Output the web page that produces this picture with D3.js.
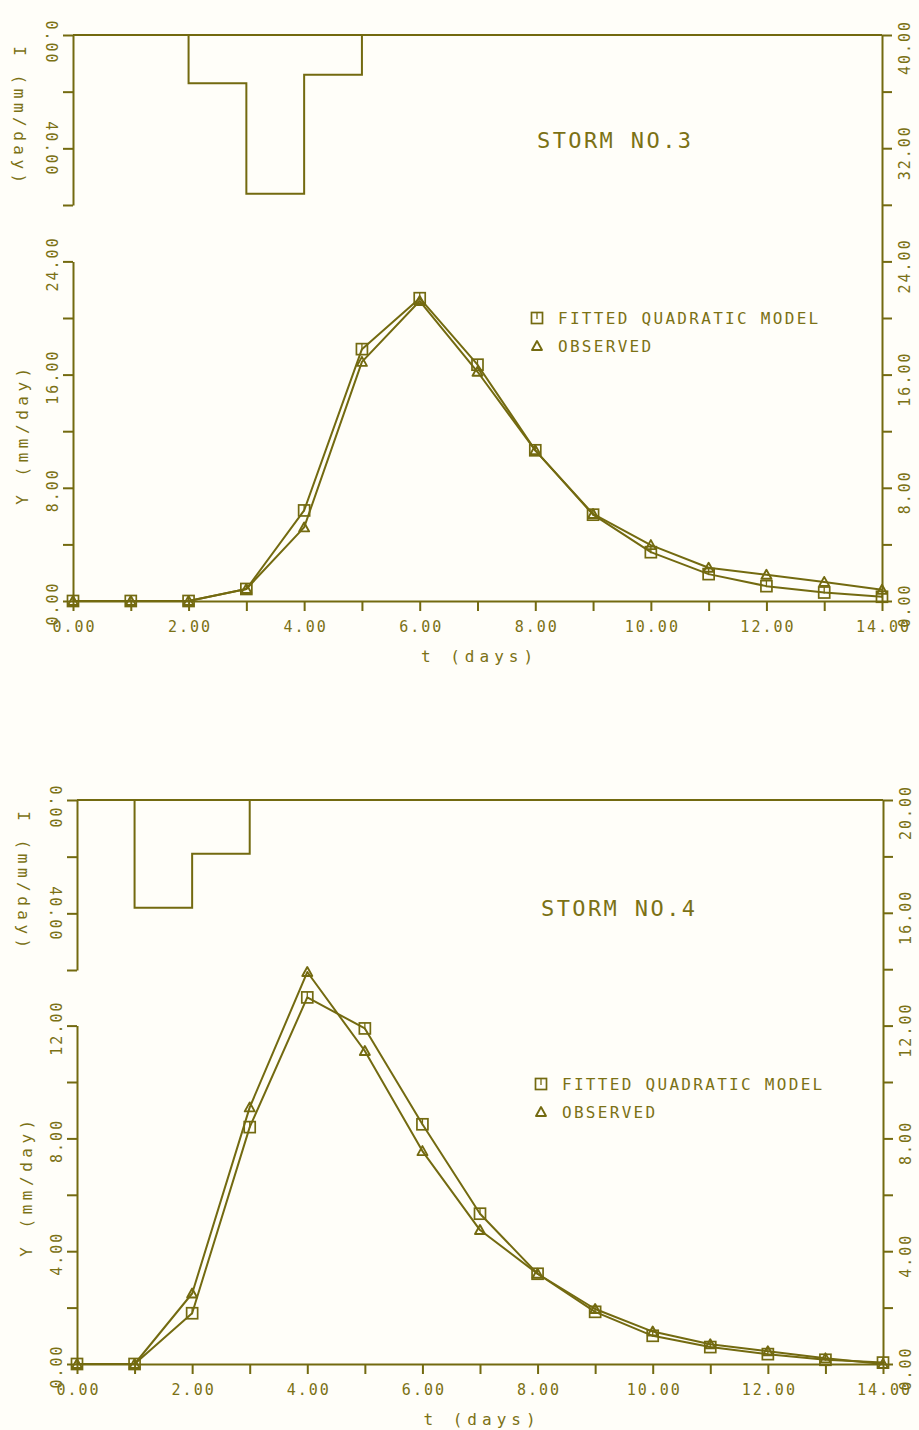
<!DOCTYPE html>
<html>
<head>
<meta charset="utf-8">
<script src="https://cdn.jsdelivr.net/npm/d3@7"></script>
<style>
  body { margin: 0; background: #fffef9; }
  text { font-family: "DejaVu Sans Mono", monospace; fill: #7b7115; }
</style>
</head>
<body>
<div id="chart"></div>
<script>
// DATA
const DAYS = [0, 1, 2, 3, 4, 5, 6, 7, 8, 9, 10, 11, 12, 13, 14];

// rainfall intensity (mm/day) for the interval starting at each day
const RAIN_3 = [0, 0, 17, 56, 14, 0, 0, 0, 0, 0, 0, 0, 0, 0, 0];
const RAIN_4 = [0, 38, 19, 0, 0, 0, 0, 0, 0, 0, 0, 0, 0, 0, 0];

// runoff Y (mm/day)
const FITTED_3   = [0, 0, 0, 0.85, 6.4, 17.8, 21.4, 16.7, 10.65, 6.1, 3.45, 1.9, 1.05, 0.6, 0.3];
const OBSERVED_3 = [0, 0, 0, 0.85, 5.2, 16.9, 21.2, 16.2, 10.65, 6.15, 3.95, 2.35, 1.85, 1.35, 0.8];
const FITTED_4   = [0, 0, 1.8, 8.4, 13.0, 11.9, 8.5, 5.33, 3.2, 1.85, 1.0, 0.6, 0.35, 0.15, 0.05];
const OBSERVED_4 = [0, 0, 2.5, 9.1, 13.9, 11.1, 7.55, 4.75, 3.2, 1.95, 1.15, 0.7, 0.45, 0.2, 0.0];

// tick values
const X_LABELS = [0, 2, 4, 6, 8, 10, 12, 14];
const RAIN_TICKS = [0, 20, 40, 60];
const RAIN_LABELS = [0, 40];
const TICKS_3 = [0, 4, 8, 12, 16, 20, 24, 28, 32, 36, 40];
const LABELS_3 = [0, 8, 16, 24, 32, 40];
const TICKS_4 = [0, 2, 4, 6, 8, 10, 12, 14, 16, 18, 20];
const LABELS_4 = [0, 4, 8, 12, 16, 20];

const LEGEND = ["FITTED QUADRATIC MODEL", "OBSERVED"];

// GLOBAL CONSTANTS
const WIDTH = 919;
const HEIGHT = 1430;
const INK = "#736a10";
const LINE_W = 2;
const FMT = d3.format(".2f");

const SVG = d3.select("#chart")
  .append("svg")
    .attr("width", WIDTH)
    .attr("height", HEIGHT);

SVG.append("rect").attr("width", WIDTH).attr("height", HEIGHT).attr("fill", "#fffef9");

// styles axis ticks and domain line
function styleAxis(g) {
  g.select(".domain").attr("stroke", INK).attr("stroke-width", LINE_W);
  g.selectAll(".tick line").attr("stroke", INK).attr("stroke-width", LINE_W);
  g.selectAll(".tick text")
    .attr("font-size", "15px")
    .attr("letter-spacing", "2px")
    .attr("fill", null)
    .attr("font-family", null);
}

function drawPanel(p) {
  const X = d3.scaleLinear().domain([0, 14]).range([p.x0, p.x1]);
  const Y = d3.scaleLinear().domain([0, p.yMax]).range([p.yBase, p.yTop]);
  const R = d3.scaleLinear().domain([0, 60]).range([p.yTop, p.rainBottom]);
  const Y_LEFT = Y.copy().domain([0, p.leftMax]).range([Y(0), Y(p.leftMax)]);

  // x axis
  const xAxis = SVG.append("g")
    .attr("transform", "translate(0," + Y(0) + ")")
    .call(d3.axisBottom(X).tickValues(DAYS).tickSize(10).tickSizeOuter(0)
      .tickFormat((d) => X_LABELS.includes(d) ? FMT(d) : ""));
  styleAxis(xAxis);
  xAxis.selectAll(".tick text").attr("y", 31).attr("dy", null).attr("dx", "1px");

  SVG.append("text")
    .attr("x", X(7) + 2)
    .attr("y", Y(0) + 61)
    .attr("text-anchor", "middle")
    .attr("font-size", "16px")
    .attr("letter-spacing", "5px")
    .text("t (days)");

  // left runoff axis
  const yAxis = SVG.append("g")
    .attr("transform", "translate(" + p.x0 + ",0)")
    .call(d3.axisLeft(Y_LEFT).tickValues(p.leftTicks).tickSize(10).tickSizeOuter(0)
      .tickFormat((d) => p.leftLabels.includes(d) ? FMT(d) : ""));
  styleAxis(yAxis);
  yAxis.selectAll(".tick text")
    .attr("x", null).attr("dy", null)
    .attr("text-anchor", "middle")
    .attr("transform", "translate(-15,2) rotate(-90)");

  SVG.append("text")
    .attr("transform", "translate(" + (p.x0 - 45) + "," + p.yTitle + ") rotate(-90)")
    .attr("text-anchor", "middle")
    .attr("font-size", "16px")
    .attr("letter-spacing", "4.5px")
    .text("Y (mm/day)");

  // right axis
  const rAxis = SVG.append("g")
    .attr("transform", "translate(" + p.x1 + ",0)")
    .call(d3.axisRight(Y).tickValues(p.rightTicks).tickSize(10).tickSizeOuter(0)
      .tickFormat((d) => p.rightLabels.includes(d) ? FMT(d) : ""));
  styleAxis(rAxis);
  rAxis.selectAll(".tick text")
    .attr("x", null).attr("dy", null)
    .attr("text-anchor", "middle")
    .attr("transform", (d) => "translate(28," + (d === p.yMax ? 12 : 4) + ") rotate(-90)");

  // rainfall axis
  const iAxis = SVG.append("g")
    .attr("transform", "translate(" + p.x0 + ",0)")
    .call(d3.axisLeft(R).tickValues(RAIN_TICKS).tickSize(10).tickSizeOuter(0)
      .tickFormat((d) => RAIN_LABELS.includes(d) ? FMT(d) : ""));
  styleAxis(iAxis);
  iAxis.selectAll(".tick text")
    .attr("x", null).attr("dy", null)
    .attr("text-anchor", "middle")
    .attr("transform", (d) => "translate(-27," + (d === 0 ? 7 : 0) + ") rotate(90)");

  SVG.append("text")
    .attr("transform", "translate(" + (p.x0 - 59) + "," + (p.yTop + 82) + ") rotate(90)")
    .attr("text-anchor", "middle")
    .attr("font-size", "16px")
    .attr("letter-spacing", "4.5px")
    .text("I (mm/day)");

  // top frame line
  SVG.append("line")
    .attr("x1", X(0)).attr("x2", X(14))
    .attr("y1", R(0)).attr("y2", R(0))
    .attr("stroke", INK).attr("stroke-width", LINE_W);

  // rainfall hyetograph
  const rainLine = d3.line()
    .x((d, i) => X(DAYS[i]))
    .y((d) => R(d))
    .curve(d3.curveStepAfter);
  SVG.append("path")
    .attr("d", rainLine(p.rain))
    .attr("fill", "none")
    .attr("stroke", INK)
    .attr("stroke-width", LINE_W);

  // runoff series
  const runLine = d3.line()
    .x((d, i) => X(DAYS[i]))
    .y((d) => Y(d));

  [p.fitted, p.observed].forEach((s) => {
    SVG.append("path")
      .attr("d", runLine(s))
      .attr("fill", "none")
      .attr("stroke", INK)
      .attr("stroke-width", LINE_W)
      .attr("stroke-linejoin", "round");
  });

  SVG.selectAll(null)
    .data(p.fitted)
    .enter()
    .append("g")
      .attr("transform", (d, i) => "translate(" + X(DAYS[i]) + "," + Y(d) + ")")
      .each(function () { square(d3.select(this)); });

  SVG.selectAll(null)
    .data(p.observed)
    .enter()
    .append("g")
      .attr("transform", (d, i) => "translate(" + X(DAYS[i]) + "," + Y(d) + ")")
      .each(function () { triangle(d3.select(this)); });

  // title
  SVG.append("text")
    .attr("x", p.titleX)
    .attr("y", p.titleY)
    .attr("font-size", "22px")
    .attr("letter-spacing", "2.4px")
    .text(p.title);

  // legend
  const lg = SVG.append("g").attr("transform", "translate(" + p.legX + "," + p.legY + ")");
  square(lg.append("g"));
  triangle(lg.append("g").attr("transform", "translate(0,28)"));
  lg.selectAll("text.leg")
    .data(LEGEND)
    .enter()
    .append("text")
      .attr("class", "leg")
      .attr("x", 21)
      .attr("y", (d, i) => 6 + i * 28)
      .attr("font-size", "16px")
      .attr("letter-spacing", "2.3px")
      .text((d) => d);
}

function square(g) {
  g.append("rect")
    .attr("x", -5.5).attr("y", -5.5)
    .attr("width", 11).attr("height", 11)
    .attr("fill", "none")
    .attr("stroke", INK)
    .attr("stroke-width", 1.7);
  g.append("line")
    .attr("x1", 0).attr("x2", 0)
    .attr("y1", -5.5).attr("y2", 1)
    .attr("stroke", INK)
    .attr("stroke-width", 1.3);
}

function triangle(g) {
  g.append("path")
    .attr("d", "M0,-5L5,4L-5,4Z")
    .attr("fill", "none")
    .attr("stroke", INK)
    .attr("stroke-width", 1.9)
    .attr("stroke-linejoin", "round");
}

drawPanel({
  x0: 73, x1: 882,
  yBase: 601, yTop: 35, yMax: 40,
  rainBottom: 205,
  leftMax: 24, leftTicks: [0, 4, 8, 12, 16, 20, 24], leftLabels: [0, 8, 16, 24],
  rightTicks: TICKS_3, rightLabels: LABELS_3,
  yTitle: 434,
  rain: RAIN_3, fitted: FITTED_3, observed: OBSERVED_3,
  title: "STORM NO.3", titleX: 537, titleY: 148,
  legX: 537, legY: 318
});

drawPanel({
  x0: 77, x1: 883,
  yBase: 1364, yTop: 800, yMax: 20,
  rainBottom: 970,
  leftMax: 12, leftTicks: [0, 2, 4, 6, 8, 10, 12], leftLabels: [0, 4, 8, 12],
  rightTicks: TICKS_4, rightLabels: LABELS_4,
  yTitle: 1186,
  rain: RAIN_4, fitted: FITTED_4, observed: OBSERVED_4,
  title: "STORM NO.4", titleX: 541, titleY: 916,
  legX: 541, legY: 1084
});
</script>
</body>
</html>
